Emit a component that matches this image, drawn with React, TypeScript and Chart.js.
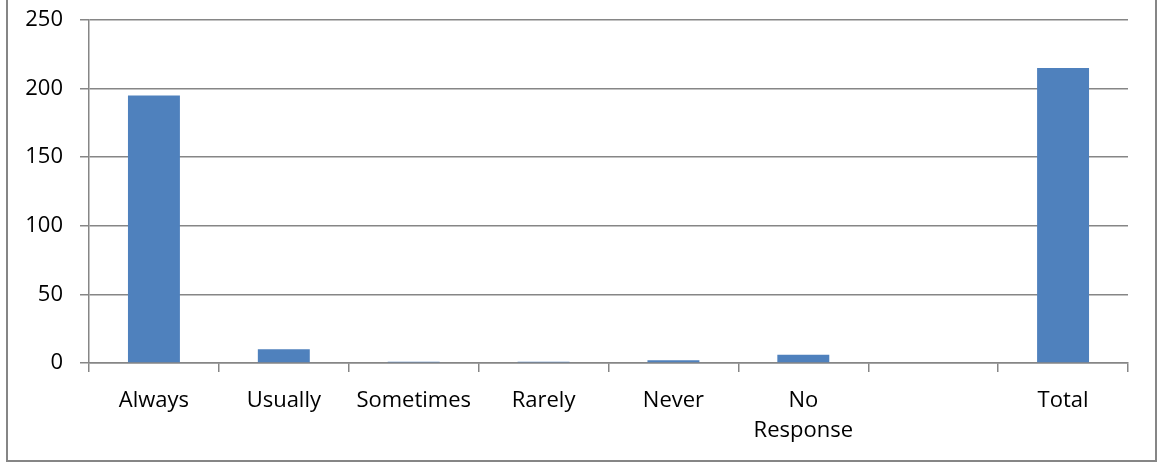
import React, { useEffect, useRef } from "react";
import { Chart, registerables } from "chart.js";

Chart.register(...registerables);

// Response categories (the seventh slot is intentionally blank before the total)
const categories: (string | string[])[] = [
  "Always",
  "Usually",
  "Sometimes",
  "Rarely",
  "Never",
  ["No", "Response"],
  "",
  "Total",
];

// Number of responses per category
const responseCounts: number[] = [195, 10, 1, 1, 2, 6, 0, 215];

// Value axis range
const yMin = 0;
const yMax = 250;
const yStep = 50;

const BAR_BLUE = "#4F81BD";
const AXIS_GRAY = "#868686";
const FONT = "'Open Sans', 'DejaVu Sans', sans-serif";

export default function App() {
  const canvasRef = useRef<HTMLCanvasElement | null>(null);

  useEffect(() => {
    const canvas = canvasRef.current;
    if (!canvas) return;

    const chart = new Chart(canvas, {
      type: "bar",
      data: {
        labels: categories,
        datasets: [
          {
            data: responseCounts,
            backgroundColor: BAR_BLUE,
            borderWidth: 0,
            categoryPercentage: 1,
            barPercentage: 0.4,
          },
        ],
      },
      options: {
        responsive: false,
        animation: false,
        layout: { padding: { left: 0, top: 20, right: 32, bottom: 0 } },
        plugins: {
          legend: { display: false },
          tooltip: { enabled: false },
        },
        scales: {
          x: {
            offset: true,
            grid: {
              offset: true,
              drawOnChartArea: false,
              drawTicks: true,
              tickLength: 9,
              color: AXIS_GRAY,
              lineWidth: 1.5,
            },
            border: { display: true, color: AXIS_GRAY, width: 1.5 },
            ticks: {
              color: "#000",
              font: { family: FONT, size: 22, lineHeight: 1.4 },
              padding: 13,
              maxRotation: 0,
              autoSkip: false,
            },
            afterFit: (scale: any) => {
              scale.height = 102;
              scale.paddingLeft = 0;
              scale.paddingRight = 0;
            },
          },
          y: {
            min: yMin,
            max: yMax,
            ticks: {
              stepSize: yStep,
              color: "#000",
              font: { family: FONT, size: 22 },
              padding: 17,
            },
            grid: {
              color: AXIS_GRAY,
              lineWidth: 1.5,
              tickLength: 9,
            },
            border: { display: true, color: AXIS_GRAY, width: 1.5 },
            afterFit: (scale: any) => {
              scale.width = 89;
              scale.paddingTop = 0;
              scale.paddingBottom = 0;
            },
          },
        },
      },
    });

    return () => chart.destroy();
  }, []);

  return (
    <div style={{ position: "fixed", left: 0, top: 0, width: 1160, height: 465, background: "#fff" }}>
      <canvas ref={canvasRef} width={1160} height={465} style={{ display: "block" }} />
      <div
        style={{
          position: "absolute",
          left: 6,
          top: -2,
          width: 1151,
          height: 464,
          boxSizing: "border-box",
          border: `2px solid ${AXIS_GRAY}`,
          pointerEvents: "none",
        }}
      />
    </div>
  );
}
